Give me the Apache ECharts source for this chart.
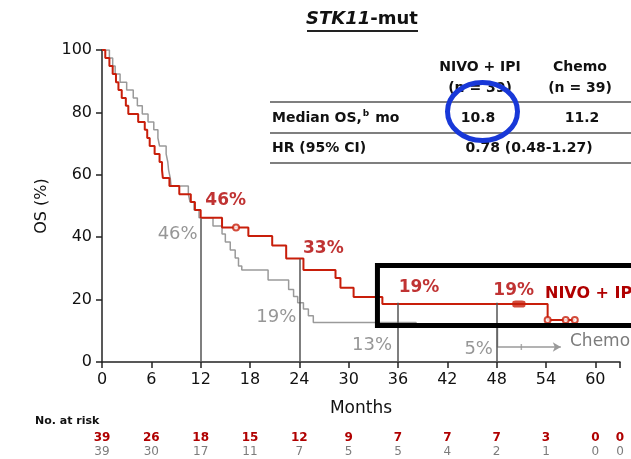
<!DOCTYPE html>
<html>
<head>
<meta charset="utf-8">
<script src="https://cdn.jsdelivr.net/npm/echarts@6/dist/echarts.min.js"></script>
<style>
  html, body { margin: 0; padding: 0; background: #fff; }
  #chart { width: 631px; height: 459px; }
</style>
</head>
<body>
<div id="chart"></div>
<script>
// Kaplan-Meier overall survival, STK11-mut subgroup
const months = [0, 6, 12, 18, 24, 30, 36, 42, 48, 54, 60, 63];
const atRiskNivo = [39, 26, 18, 15, 12, 9, 7, 7, 7, 3, 0, 0];
const atRiskChemo = [39, 30, 17, 11, 7, 5, 5, 4, 2, 1, 0, 0];

// [month, OS %] at each event time
const nivoCurve = [
  [0, 100], [0.4, 97.4], [0.9, 94.9], [1.3, 92.3], [1.7, 89.7], [2.0, 87.2],
  [2.4, 84.6], [2.9, 82.1], [3.2, 79.5], [4.4, 76.9], [5.2, 74.4], [5.5, 71.8],
  [5.8, 69.2], [6.4, 66.7], [7.0, 64.1], [7.3, 61.5], [7.4, 59.0], [8.2, 56.4],
  [9.4, 53.8], [10.8, 51.3], [11.3, 48.7], [12.0, 46.2], [14.6, 43.1],
  [17.8, 40.4], [20.7, 37.3], [22.4, 33.2], [24.5, 29.5], [28.4, 26.9],
  [29.0, 23.8], [30.6, 20.8], [34.1, 18.6], [54.2, 13.5], [57.5, 13.5]
];
const chemoCurve = [
  [0, 100], [0.9, 97.4], [1.3, 94.9], [1.6, 92.3], [2.2, 89.7], [3.0, 87.2],
  [3.8, 84.6], [4.3, 82.1], [4.9, 79.5], [5.6, 76.9], [6.3, 74.4], [6.8, 71.8],
  [7.0, 69.2], [7.8, 66.7], [8.0, 64.1], [8.1, 61.5], [8.3, 59.0], [8.4, 56.4],
  [10.5, 53.8], [10.7, 51.3], [11.2, 48.7], [11.8, 46.2], [13.5, 43.6],
  [14.6, 41.0], [15.0, 38.5], [15.6, 35.9], [16.2, 33.3], [16.6, 30.8],
  [17.0, 29.5], [20.2, 26.3], [22.7, 23.2], [23.3, 21.0], [23.8, 19.0],
  [24.5, 17.0], [25.1, 14.8], [25.7, 12.7], [38.2, 11.2], [48.1, 4.8], [55.8, 4.8]
];
const nivoCensored = [[16.3, 43.1], [54.2, 13.5], [56.4, 13.5], [57.5, 13.5]];
const nivoCensoredCluster = [[50.7, 18.6]];
const chemoCensored = [[51.0, 4.8]];

const landmarkMonths = [12, 24, 36, 48];
const nivoLandmarks = [46, 33, 19, 19];
const chemoLandmarks = [46, 19, 13, 5];

// label placement around each landmark point (pixels)
const nivoLabelOffsets = [[25, -18], [24, -10], [21, -15], [17, -12]];
const chemoLabelOffsets = [[-23, 16], [-23, 15], [-26, 24], [-18, 3]];

const RED = '#c81e0a';
const RED_TEXT = '#b00000';
const GRAY = '#9a9a9a';
const GRAY_TEXT = '#7c7c7c';
const FONT = 'DejaVu Sans';

const el = document.getElementById('chart');
const chart = echarts.init(el, null, { renderer: 'canvas' });

const option = {
  animation: false,
  backgroundColor: '#fff',
  textStyle: { fontFamily: FONT },
  grid: { left: 102, right: 11, top: 50, bottom: 97 },
  xAxis: {
    type: 'value', min: 0, max: 63, interval: 6,
    axisLine: { show: true, lineStyle: { color: '#222', width: 1.5 } },
    axisTick: { show: true, length: 6, lineStyle: { color: '#222', width: 1.5 } },
    axisLabel: {
      color: '#111', fontSize: 16, fontFamily: FONT, margin: 10,
      formatter: v => (v % 6 === 0 ? String(v) : '')
    },
    splitLine: { show: false },
    name: 'Months', nameLocation: 'middle', nameGap: 38,
    nameTextStyle: { color: '#111', fontSize: 17, fontFamily: FONT }
  },
  yAxis: {
    type: 'value', min: 0, max: 100, interval: 20,
    axisLine: { show: true, lineStyle: { color: '#222', width: 1.5 } },
    axisTick: { show: true, length: 6, lineStyle: { color: '#222', width: 1.5 } },
    axisLabel: { color: '#111', fontSize: 16, fontFamily: FONT, margin: 10 },
    splitLine: { show: false },
    name: 'OS (%)', nameLocation: 'middle', nameGap: 52, nameRotate: 90,
    nameTextStyle: { color: '#111', fontSize: 16, fontFamily: FONT }
  },
  series: [
    {
      name: 'Chemo', type: 'line', step: 'end',
      data: chemoCurve.map((p, i) => i === chemoCurve.length - 1
        ? { value: p, symbol: 'arrow', symbolSize: [7, 8], symbolRotate: -90 }
        : { value: p, symbol: 'none' }),
      showSymbol: true, showAllSymbol: true,
      lineStyle: { color: GRAY, width: 1.5 },
      itemStyle: { color: GRAY },
      z: 2
    },
    {
      name: 'NIVO + IPI', type: 'line', step: 'end',
      data: nivoCurve, symbol: 'none',
      lineStyle: { color: RED, width: 2 },
      itemStyle: { color: RED },
      z: 3,
      markLine: {
        silent: true, symbol: 'none', animation: false,
        label: { show: false },
        lineStyle: { color: '#555', width: 1.5, type: 'solid' },
        data: landmarkMonths.map((m, i) => [
          { coord: [m, nivoLandmarks[i]] }, { coord: [m, 0] }
        ])
      }
    },
    {
      type: 'scatter', data: nivoCensored, symbol: 'emptyCircle', symbolSize: 6,
      itemStyle: { color: RED, borderColor: RED, borderWidth: 1.5 }, z: 4
    },
    {
      type: 'scatter', data: nivoCensoredCluster, symbol: 'roundRect', symbolSize: [13, 7],
      itemStyle: { color: RED }, z: 4
    },
    {
      type: 'scatter', data: chemoCensored, symbol: 'rect', symbolSize: [1.5, 6],
      itemStyle: { color: GRAY }, z: 4
    },
    {
      type: 'scatter', symbolSize: 0, z: 5,
      data: landmarkMonths.map((m, i) => ({
        value: [m, nivoLandmarks[i]],
        label: { offset: nivoLabelOffsets[i] }
      })),
      label: {
        show: true, position: 'inside', color: RED_TEXT, fontWeight: 'bold',
        fontSize: 17, fontFamily: FONT,
        formatter: p => p.value[1] + '%'
      }
    },
    {
      type: 'scatter', symbolSize: 0, z: 5,
      data: landmarkMonths.map((m, i) => ({
        value: [m, chemoLandmarks[i]],
        label: { offset: chemoLabelOffsets[i] }
      })),
      label: {
        show: true, position: 'inside', color: GRAY_TEXT,
        fontSize: 18, fontFamily: FONT,
        formatter: p => p.value[1] + '%'
      }
    }
  ]
};
chart.setOption(option);

// annotations: title, summary table, highlight box and number at risk
const toX = m => chart.convertToPixel({ xAxisIndex: 0 }, m);
const toY = v => chart.convertToPixel({ yAxisIndex: 0 }, v);

const graphics = [];

// title
graphics.push({
  type: 'text', x: 362, y: 19, z: 10,
  style: {
    text: '{i|STK11}{b|-mut}', align: 'center', verticalAlign: 'middle',
    rich: {
      i: { fontFamily: FONT, fontSize: 18, fontWeight: 'bold', fontStyle: 'italic', fill: '#111' },
      b: { fontFamily: FONT, fontSize: 18, fontWeight: 'bold', fill: '#111' }
    }
  }
});
graphics.push({
  type: 'line', z: 10,
  shape: { x1: 307, y1: 31, x2: 418, y2: 31 },
  style: { stroke: '#222', lineWidth: 2 }
});

// summary table
[102, 133, 163].forEach(y => graphics.push({
  type: 'line', z: 10,
  shape: { x1: 270, y1: y, x2: 631, y2: y },
  style: { stroke: '#555', lineWidth: 1.5 }
}));
const tableText = (text, x, y, align, bold) => graphics.push({
  type: 'text', x, y, z: 11,
  style: {
    text, align, verticalAlign: 'middle', fill: '#111',
    fontFamily: FONT, fontSize: 14, fontWeight: bold ? 'bold' : 'normal'
  }
});
tableText('NIVO + IPI', 480, 67, 'center', true);
tableText('(n = 39)', 480, 88, 'center', true);
tableText('Chemo', 580, 67, 'center', true);
tableText('(n = 39)', 580, 88, 'center', true);
graphics.push({
  type: 'text', x: 272, y: 118, z: 11,
  style: {
    text: '{a|Median OS,}{s|b}{a| mo}', verticalAlign: 'middle',
    rich: {
      a: { fontFamily: FONT, fontSize: 14, fontWeight: 'bold', fill: '#111', lineHeight: 18 },
      s: { fontFamily: FONT, fontSize: 9, fontWeight: 'bold', fill: '#111', verticalAlign: 'top', padding: [0, 1, 0, 1] }
    }
  }
});
tableText('10.8', 478, 118, 'center', true);
tableText('11.2', 582, 118, 'center', true);
tableText('HR (95% CI)', 272, 148, 'left', true);
tableText('0.78 (0.48-1.27)', 529, 148, 'center', true);
graphics.push({
  type: 'ellipse', z: 12,
  shape: { cx: 482.5, cy: 111.5, rx: 35, ry: 29 },
  style: { fill: 'none', stroke: '#1838d8', lineWidth: 5 }
});

// highlight box over the landmark region
const boxLeft = toX(33.5), boxTop = toY(30.9), boxBottom = toY(11.7);
graphics.push({
  type: 'rect', z: 9,
  shape: { x: boxLeft, y: boxTop, width: 700 - boxLeft, height: boxBottom - boxTop },
  style: { fill: 'none', stroke: '#000', lineWidth: 5 }
});

// series names at the curve tails
graphics.push({
  type: 'text', x: 545, y: 294, z: 11,
  style: { text: 'NIVO + IPI', verticalAlign: 'middle', fill: RED_TEXT, fontFamily: FONT, fontSize: 16, fontWeight: 'bold' }
});
graphics.push({
  type: 'text', x: 570, y: 342, z: 11,
  style: { text: 'Chemo', verticalAlign: 'middle', fill: GRAY_TEXT, fontFamily: FONT, fontSize: 17 }
});

// number at risk
graphics.push({
  type: 'text', x: 35, y: 421, z: 11,
  style: { text: 'No. at risk', verticalAlign: 'middle', fill: '#111', fontFamily: FONT, fontSize: 11, fontWeight: 'bold' }
});
months.forEach((m, i) => {
  const x = toX(m);
  graphics.push({
    type: 'text', x, y: 438, z: 11,
    style: { text: String(atRiskNivo[i]), align: 'center', verticalAlign: 'middle', fill: RED_TEXT, fontFamily: FONT, fontSize: 12, fontWeight: 'bold' }
  });
  graphics.push({
    type: 'text', x, y: 452, z: 11,
    style: { text: String(atRiskChemo[i]), align: 'center', verticalAlign: 'middle', fill: GRAY_TEXT, fontFamily: FONT, fontSize: 12 }
  });
});

chart.setOption({ graphic: graphics });
</script>
</body>
</html>
